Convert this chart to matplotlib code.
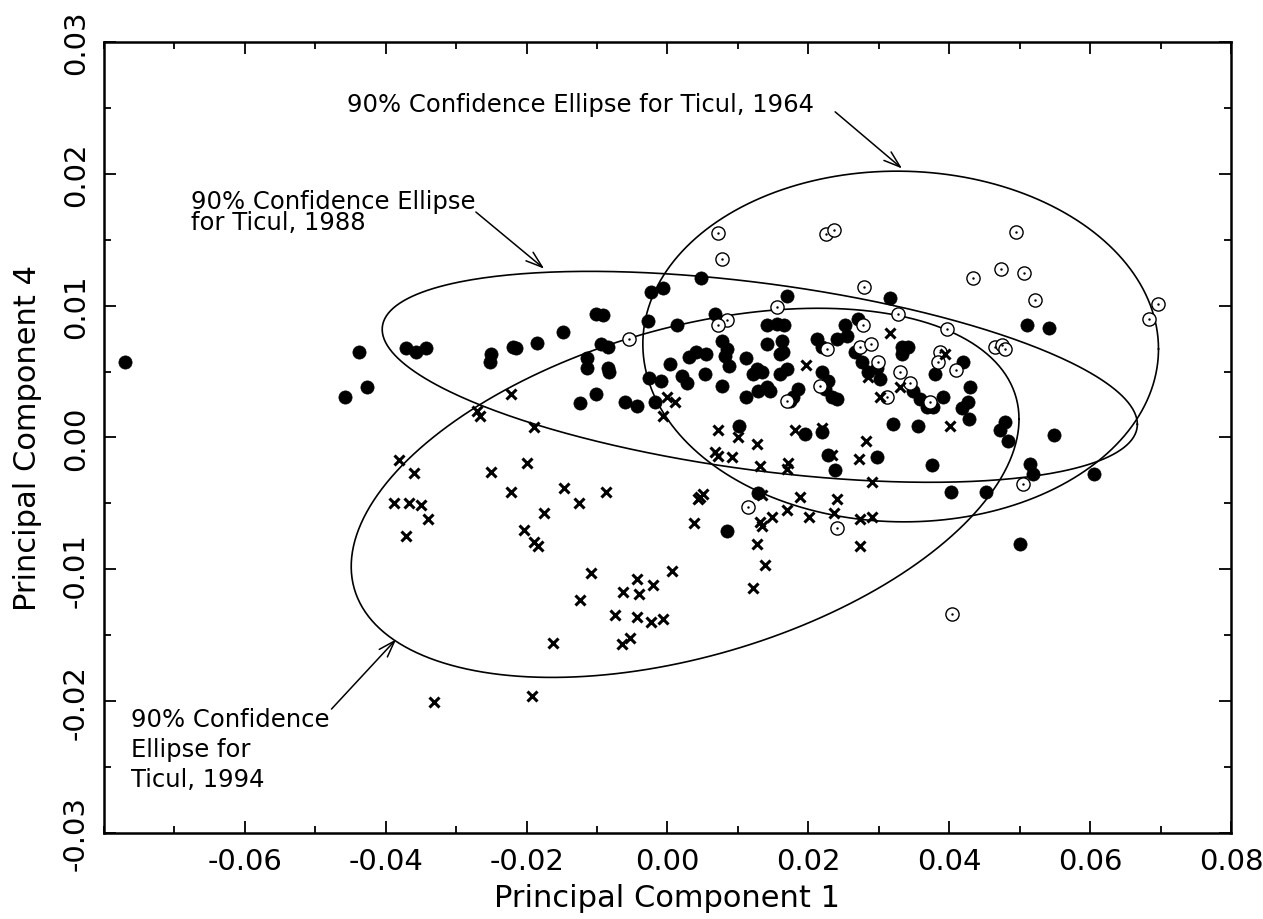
import numpy as np
import matplotlib
matplotlib.use('Agg')
import matplotlib.pyplot as plt
from matplotlib.ticker import MultipleLocator

# Ticul 1988 -- filled circles
pc1_1988 = [-0.0770, -0.0438, -0.0427, -0.0458, -0.0371, -0.0357, -0.0343, -0.0250, -0.0252,
            -0.0220, -0.0215, -0.0185, -0.0149, -0.0101, -0.0092, -0.0114, -0.0114, -0.0094,
            -0.0085, -0.0085, -0.0083, -0.0028, 0.0013, -0.0101, -0.0124, -0.0061, -0.0044,
            -0.0026, -0.0009, 0.0003, 0.0021, 0.0027, -0.0018, -0.0023, -0.0007, 0.0048,
            0.0169, 0.0316, 0.0067, 0.0141, 0.0156, 0.0166, 0.0270, 0.0252, 0.0077, 0.0084,
            0.0081, 0.0088, 0.0041, 0.0055, 0.0031, 0.0141, 0.0162, 0.0164, 0.0159, 0.0212,
            0.0220, 0.0240, 0.0255, 0.0266, 0.0276, 0.0333, 0.0341, 0.0333, 0.0112, 0.0127,
            0.0121, 0.0134, 0.0053, 0.0077, 0.0159, 0.0169, 0.0219, 0.0228, 0.0223, 0.0284,
            0.0297, 0.0302, 0.0112, 0.0128, 0.0141, 0.0145, 0.0178, 0.0185, 0.0174, 0.0233,
            0.0240, 0.0349, 0.0358, 0.0368, 0.0377, 0.0320, 0.0356, 0.0102, 0.0195, 0.0220,
            0.0228, 0.0297, 0.0238, 0.0376, 0.0128, 0.0084, 0.0511, 0.0541, 0.0420, 0.0430,
            0.0427, 0.0418, 0.0428, 0.0391, 0.0380, 0.0479, 0.0472, 0.0484, 0.0548, 0.0514,
            0.0519, 0.0605, 0.0403, 0.0452, 0.0501]
pc4_1988 = [0.0057, 0.0065, 0.0038, 0.0031, 0.0068, 0.0065, 0.0068, 0.0063, 0.0057,
            0.0069, 0.0068, 0.0072, 0.0080, 0.0094, 0.0093, 0.0060, 0.0053, 0.0071,
            0.0069, 0.0053, 0.0050, 0.0088, 0.0085, 0.0033, 0.0026, 0.0027, 0.0024,
            0.0045, 0.0043, 0.0056, 0.0047, 0.0041, 0.0027, 0.0110, 0.0113, 0.0121,
            0.0107, 0.0106, 0.0094, 0.0085, 0.0086, 0.0085, 0.0090, 0.0085, 0.0073, 0.0067,
            0.0062, 0.0054, 0.0065, 0.0063, 0.0061, 0.0071, 0.0073, 0.0065, 0.0063, 0.0075,
            0.0069, 0.0075, 0.0077, 0.0065, 0.0057, 0.0069, 0.0069, 0.0063, 0.0060, 0.0052,
            0.0048, 0.0050, 0.0048, 0.0039, 0.0048, 0.0052, 0.0050, 0.0043, 0.0037, 0.0050,
            0.0053, 0.0044, 0.0031, 0.0035, 0.0038, 0.0035, 0.0031, 0.0037, 0.0028, 0.0031,
            0.0029, 0.0035, 0.0029, 0.0023, 0.0023, 0.0010, 0.0009, 0.0009, 0.0003, 0.0004,
            -0.0013, -0.0015, -0.0025, -0.0021, -0.0042, -0.0071, 0.0085, 0.0083, 0.0057, 0.0038,
            0.0027, 0.0022, 0.0014, 0.0031, 0.0048, 0.0012, 0.0006, -0.0003, 0.0002, -0.0020,
            -0.0028, -0.0028, -0.0041, -0.0041, -0.0081]

# Ticul 1964 -- open circles
pc1_1964 = [-0.0054, 0.0071, 0.0077, 0.0225, 0.0236, 0.0279, 0.0156, 0.0327, 0.0084, 0.0071,
            0.0277, 0.0273, 0.0289, 0.0226, 0.0299, 0.0330, 0.0216, 0.0312, 0.0169, 0.0344,
            0.0114, 0.0240, 0.0495, 0.0434, 0.0474, 0.0506, 0.0521, 0.0697, 0.0684, 0.0397,
            0.0465, 0.0475, 0.0479, 0.0387, 0.0384, 0.0410, 0.0373, 0.0505, 0.0404]
pc4_1964 = [0.0075, 0.0155, 0.0135, 0.0154, 0.0157, 0.0114, 0.0099, 0.0094, 0.0089, 0.0085,
            0.0085, 0.0069, 0.0071, 0.0067, 0.0057, 0.0050, 0.0039, 0.0031, 0.0028, 0.0041,
            -0.0053, -0.0069, 0.0156, 0.0121, 0.0128, 0.0125, 0.0104, 0.0101, 0.0090, 0.0082,
            0.0069, 0.0070, 0.0067, 0.0065, 0.0057, 0.0051, 0.0027, -0.0035, -0.0134]

# Ticul 1994 -- crosses
pc1_1994 = [-0.0381, -0.0360, -0.0388, -0.0367, -0.0350, -0.0340, -0.0371, -0.0331, -0.0222,
            -0.0270, -0.0266, -0.0189, -0.0001, 0.0010, -0.0007, -0.0199, -0.0250, -0.0222,
            -0.0147, -0.0087, -0.0125, -0.0175, -0.0203, -0.0189, -0.0184, -0.0108, -0.0124,
            -0.0044, -0.0063, -0.0041, -0.0021, 0.0007, -0.0075, -0.0044, -0.0023, -0.0007,
            -0.0064, -0.0053, -0.0162, -0.0193, 0.0037, 0.0044, 0.0067, 0.0071, 0.0091,
            0.0127, 0.0131, 0.0171, 0.0169, 0.0233, 0.0272, 0.0282, 0.0290, 0.0046, 0.0050,
            0.0134, 0.0188, 0.0240, 0.0236, 0.0169, 0.0148, 0.0131, 0.0134, 0.0201, 0.0273,
            0.0290, 0.0273, 0.0127, 0.0138, 0.0121, 0.0316, 0.0196, 0.0284, 0.0330, 0.0302,
            0.0071, 0.0100, 0.0181, 0.0220, 0.0401, 0.0394]
pc4_1994 = [-0.0017, -0.0027, -0.0050, -0.0050, -0.0051, -0.0062, -0.0075, -0.0201, 0.0033,
            0.0020, 0.0016, 0.0008, 0.0031, 0.0027, 0.0016, -0.0019, -0.0026, -0.0041,
            -0.0038, -0.0041, -0.0050, -0.0057, -0.0070, -0.0079, -0.0082, -0.0103, -0.0123,
            -0.0107, -0.0117, -0.0119, -0.0112, -0.0101, -0.0135, -0.0136, -0.0140, -0.0138,
            -0.0157, -0.0152, -0.0156, -0.0196, -0.0065, -0.0047, -0.0011, -0.0014, -0.0015,
            -0.0005, -0.0022, -0.0019, -0.0024, -0.0013, -0.0016, -0.0003, -0.0034, -0.0045, -0.0043,
            -0.0044, -0.0045, -0.0047, -0.0057, -0.0055, -0.0060, -0.0064, -0.0067, -0.0060, -0.0062,
            -0.0060, -0.0082, -0.0081, -0.0097, -0.0114, 0.0079, 0.0055, 0.0046, 0.0038, 0.0031,
            0.0006, 0.0000, 0.0006, 0.0007, 0.0009, 0.0063]

# 90% confidence ellipses: centre, half extent along each axis, correlation
ell_cx = [0.0331, 0.0131, 0.0025]
ell_cy = [0.0069, 0.0046, -0.0042]
ell_sx = [0.0366, 0.0536, 0.0474]
ell_sy = [0.0133, 0.0080, 0.0140]
ell_rho = [-0.014, -0.450, 0.399]

x_ticks = [-0.06, -0.04, -0.02, 0.00, 0.02, 0.04, 0.06, 0.08]
y_ticks = [-0.03, -0.02, -0.01, 0.00, 0.01, 0.02, 0.03]

plt.rcParams['font.family'] = 'DejaVu Sans'

fig = plt.figure(figsize=(12.63, 9.20), dpi=100)
ax = fig.add_axes([0.0823, 0.0935, 0.8924, 0.8598])

# ellipses
t = np.linspace(0, 2 * np.pi, 400)
for cx, cy, sx, sy, r in zip(ell_cx, ell_cy, ell_sx, ell_sy, ell_rho):
    ex = cx + sx * np.cos(t)
    ey = cy + r * sy * np.cos(t) + sy * np.sqrt(1 - r ** 2) * np.sin(t)
    ax.plot(ex, ey, color='black', lw=1.2)

# points
ax.plot(pc1_1988, pc4_1988, 'o', color='black', ms=9.5, mew=0.5, ls='none')
ax.plot(pc1_1964, pc4_1964, 'o', mfc='white', mec='black', ms=9.5, mew=1.0, ls='none')
ax.plot(pc1_1964, pc4_1964, '.', color='black', ms=1.5, ls='none')
ax.plot(pc1_1994, pc4_1994, 'x', color='black', ms=7.5, mew=2.2, ls='none')

# annotations
txt_kw = dict(fontsize=17.5, color='black')
arr = dict(arrowstyle='->,head_length=0.6,head_width=0.2', color='black', lw=1.1,
           shrinkA=0, shrinkB=0, mutation_scale=20)
ax.text(-0.0455, 0.0253, '90% Confidence Ellipse for Ticul, 1964', va='center', **txt_kw)
ax.annotate('', xy=(0.0333, 0.0204), xytext=(0.0238, 0.0247), arrowprops=arr)

ax.text(-0.0677, 0.01715, '90% Confidence Ellipse\nfor Ticul, 1988', va='center',
        linespacing=0.85, **txt_kw)
ax.annotate('', xy=(-0.0175, 0.0128), xytext=(-0.0272, 0.0171), arrowprops=arr)

ax.text(-0.0761, -0.0236, '90% Confidence\nEllipse for\nTicul, 1994', va='center',
        linespacing=1.32, **txt_kw)
ax.annotate('', xy=(-0.0385, -0.0153), xytext=(-0.0477, -0.0206), arrowprops=arr)

# axes
ax.set_xlim(-0.08, 0.08)
ax.set_ylim(-0.03, 0.03)
ax.set_xticks(x_ticks)
ax.set_xticklabels(['%.2f' % v for v in x_ticks])
ax.set_yticks(y_ticks)
ax.set_yticklabels(['%.2f' % v for v in y_ticks], rotation=90, va='center')
ax.xaxis.set_minor_locator(MultipleLocator(0.01))
ax.yaxis.set_minor_locator(MultipleLocator(0.005))
ax.tick_params(which='both', direction='in', top=True, right=True, labelsize=21, width=1.3)
ax.tick_params(which='major', length=8.5)
ax.tick_params(which='minor', length=5)
ax.tick_params(axis='x', pad=10)
ax.tick_params(axis='y', pad=10)
for sp in ax.spines.values():
    sp.set_linewidth(1.8)

ax.set_xlabel('Principal Component 1', fontsize=22, va='center')
ax.set_ylabel('Principal Component 4', fontsize=22, va='center')
ax.xaxis.set_label_coords(0.5, -0.082)
ax.yaxis.set_label_coords(-0.068, 0.5)

fig.savefig('out.png', dpi=100)
